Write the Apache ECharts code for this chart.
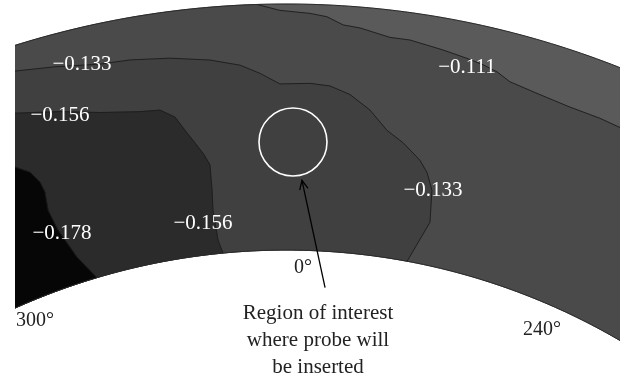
<!DOCTYPE html>
<html>
<head>
<meta charset="utf-8">
<script src="https://cdn.jsdelivr.net/npm/echarts/dist/echarts.min.js"></script>
<style>
html,body{margin:0;padding:0;background:#fff;}
#chart{width:620px;height:383px;}
</style>
</head>
<body>
<div id="chart"></div>
<script>
// ---- data: contour lines as [angle (deg, 0 = top, + to the right), radius (fraction of outer radius)] ----
const innerRadius = 0.729;
const outerRadius = 1.0;
const sectorAngles = [-36, 36];
const levels = [-0.111, -0.133, -0.156, -0.178];

const contour111 = [[-1.83,1.0],[-0.38,0.993],[1.53,0.990],[2.62,0.987],[3.68,0.979],[4.79,0.977],[6.78,0.970],[8.09,0.970],[10.32,0.965],[11.97,0.961],[13.09,0.958],[14.10,0.954],[15.10,0.947],[17.04,0.943],[19.43,0.940],[21.58,0.940],[23.07,0.939]];
const contour133 = [[-17.86,0.973],[-15.29,0.965],[-12.37,0.956],[-10.38,0.954],[-7.74,0.949],[-5.10,0.942],[-3.11,0.934],[-1.77,0.924],[-0.42,0.912],[1.66,0.913],[3.05,0.911],[4.48,0.903],[5.98,0.888],[7.36,0.868],[8.65,0.857],[10.10,0.841],[10.80,0.829],[11.43,0.811],[11.79,0.776],[10.54,0.729]];
const contour156 = [[-18.74,0.929],[-15.77,0.916],[-13.10,0.904],[-10.34,0.896],[-8.93,0.894],[-7.95,0.884],[-7.36,0.868],[-6.75,0.853],[-6.18,0.839],[-5.81,0.827],[-5.85,0.799],[-5.94,0.777],[-5.78,0.744],[-5.46,0.729]];
const contour178 = [[-19.99,0.873],[-19.08,0.862],[-18.62,0.848],[-18.51,0.836],[-18.73,0.816],[-18.49,0.792],[-17.70,0.757],[-16.60,0.729]];

const probeCenter = [0.52, 0.848];   // [angle, radius]
const arrowHead = [1.25, 0.806];
const arrowTail = [3.58, 0.689];

const contourLabels = ['\u22120.133', '\u22120.156', '\u22120.111', '\u22120.133', '\u22120.156', '\u22120.178'];
const angleLabels = ['0\u00b0', '300\u00b0', '240\u00b0'];
const annotationLines = ['Region of interest', 'where probe will', 'be inserted'];

// ---- styles ----
const fills = ['#5a5a5a', '#4a4a4a', '#404040', '#2b2b2b', '#060606'];
const lineColor = '#1c1c1c';
const serif = '"Liberation Serif", "DejaVu Serif", serif';

const chart = echarts.init(document.getElementById('chart'), null, {renderer: 'canvas'});

function renderItem(params, api) {
  const pt = (th, r) => api.coord([r, th]);
  const arc = (r, t0, t1) => {
    const n = Math.max(2, Math.ceil(Math.abs(t1 - t0) / 0.5));
    const out = [];
    for (let k = 0; k <= n; k++) out.push(pt(t0 + (t1 - t0) * k / n, r));
    return out;
  };
  const line = c => c.map(p => pt(p[0], p[1]));
  const first = c => c[0], last = c => c[c.length - 1];
  const lo = sectorAngles[0], hi = sectorAngles[1];

  const polys = [];
  polys.push(arc(outerRadius, lo, hi).concat(arc(innerRadius, hi, lo)));
  polys.push(line(contour111)
    .concat(arc(last(contour111)[1], last(contour111)[0], hi))
    .concat(arc(innerRadius, hi, lo))
    .concat(arc(outerRadius, lo, first(contour111)[0])));
  [contour133, contour156, contour178].forEach(c => {
    polys.push(line(c)
      .concat(arc(innerRadius, last(c)[0], lo))
      .concat(arc(first(c)[1], lo, first(c)[0])));
  });

  const children = polys.map((p, i) => ({
    type: 'polygon', shape: {points: p},
    style: {fill: fills[i], stroke: fills[i], lineWidth: 0.5}
  }));
  [contour111, contour133, contour156, contour178].forEach(c => {
    children.push({type: 'polyline', shape: {points: line(c)},
      style: {fill: null, stroke: lineColor, lineWidth: 0.9}});
  });
  children.push({type: 'polyline', shape: {points: arc(outerRadius, lo, hi)}, style: {fill: null, stroke: '#2a2a2a', lineWidth: 1}});
  children.push({type: 'polyline', shape: {points: arc(innerRadius, lo, hi)}, style: {fill: null, stroke: '#2a2a2a', lineWidth: 1}});

  const c = pt(probeCenter[0], probeCenter[1]);
  children.push({type: 'circle', shape: {cx: c[0], cy: c[1], r: 34},
    style: {fill: null, stroke: '#ffffff', lineWidth: 1.6}});
  const h = pt(arrowHead[0], arrowHead[1]);
  const t = pt(arrowTail[0], arrowTail[1]);
  const dx = h[0] - t[0], dy = h[1] - t[1];
  const L = Math.sqrt(dx * dx + dy * dy);
  const ux = dx / L, uy = dy / L;
  const hl = 10, ang = 25 * Math.PI / 180;
  const rot = (x, y, a) => [x * Math.cos(a) - y * Math.sin(a), x * Math.sin(a) + y * Math.cos(a)];
  const w1 = rot(-ux, -uy, ang), w2 = rot(-ux, -uy, -ang);
  children.push({type: 'line', shape: {x1: t[0], y1: t[1], x2: h[0], y2: h[1]},
    style: {stroke: '#000', lineWidth: 1.3}});
  children.push({type: 'polyline', shape: {points: [[h[0] + w1[0] * hl, h[1] + w1[1] * hl], h, [h[0] + w2[0] * hl, h[1] + w2[1] * hl]]},
    style: {fill: null, stroke: '#000', lineWidth: 1.3}});
  return {type: 'group', children: children};
}

function txt(text, x, y, color, size) {
  return {type: 'text', x: x, y: y, z: 101,
    style: {text: text, fill: color, font: size + 'px ' + serif,
      textAlign: 'center', textVerticalAlign: 'middle', align: 'center', verticalAlign: 'middle'}};
}

const option = {
  animation: false,
  backgroundColor: '#ffffff',
  polar: {center: [286, 912], radius: [0, 908]},
  angleAxis: {type: 'value', min: -180, max: 180, startAngle: 270, clockwise: true, show: false},
  radiusAxis: {type: 'value', min: 0, max: 1, show: false},
  series: [{
    type: 'custom', coordinateSystem: 'polar', clip: false,
    data: [[0.85, 0]],
    renderItem: renderItem, silent: true
  }],
  graphic: [
    {type: 'rect', z: 100, shape: {x: 0, y: 0, width: 15, height: 383}, style: {fill: '#ffffff'}},
    txt(contourLabels[0], 82, 64, '#ffffff', 21),
    txt(contourLabels[1], 60, 115, '#ffffff', 21),
    txt(contourLabels[2], 467, 67, '#ffffff', 21),
    txt(contourLabels[3], 433, 190, '#ffffff', 21),
    txt(contourLabels[4], 203, 223, '#ffffff', 21),
    txt(contourLabels[5], 62, 233, '#ffffff', 21),
    txt(angleLabels[0], 303, 268, '#222222', 20),
    txt(angleLabels[1], 35, 321, '#222222', 20),
    txt(angleLabels[2], 542, 330, '#222222', 20),
    txt(annotationLines[0], 318, 313, '#222222', 21),
    txt(annotationLines[1], 318, 340, '#222222', 21),
    txt(annotationLines[2], 318, 367, '#222222', 21)
  ]
};
chart.setOption(option);
</script>
</body>
</html>
